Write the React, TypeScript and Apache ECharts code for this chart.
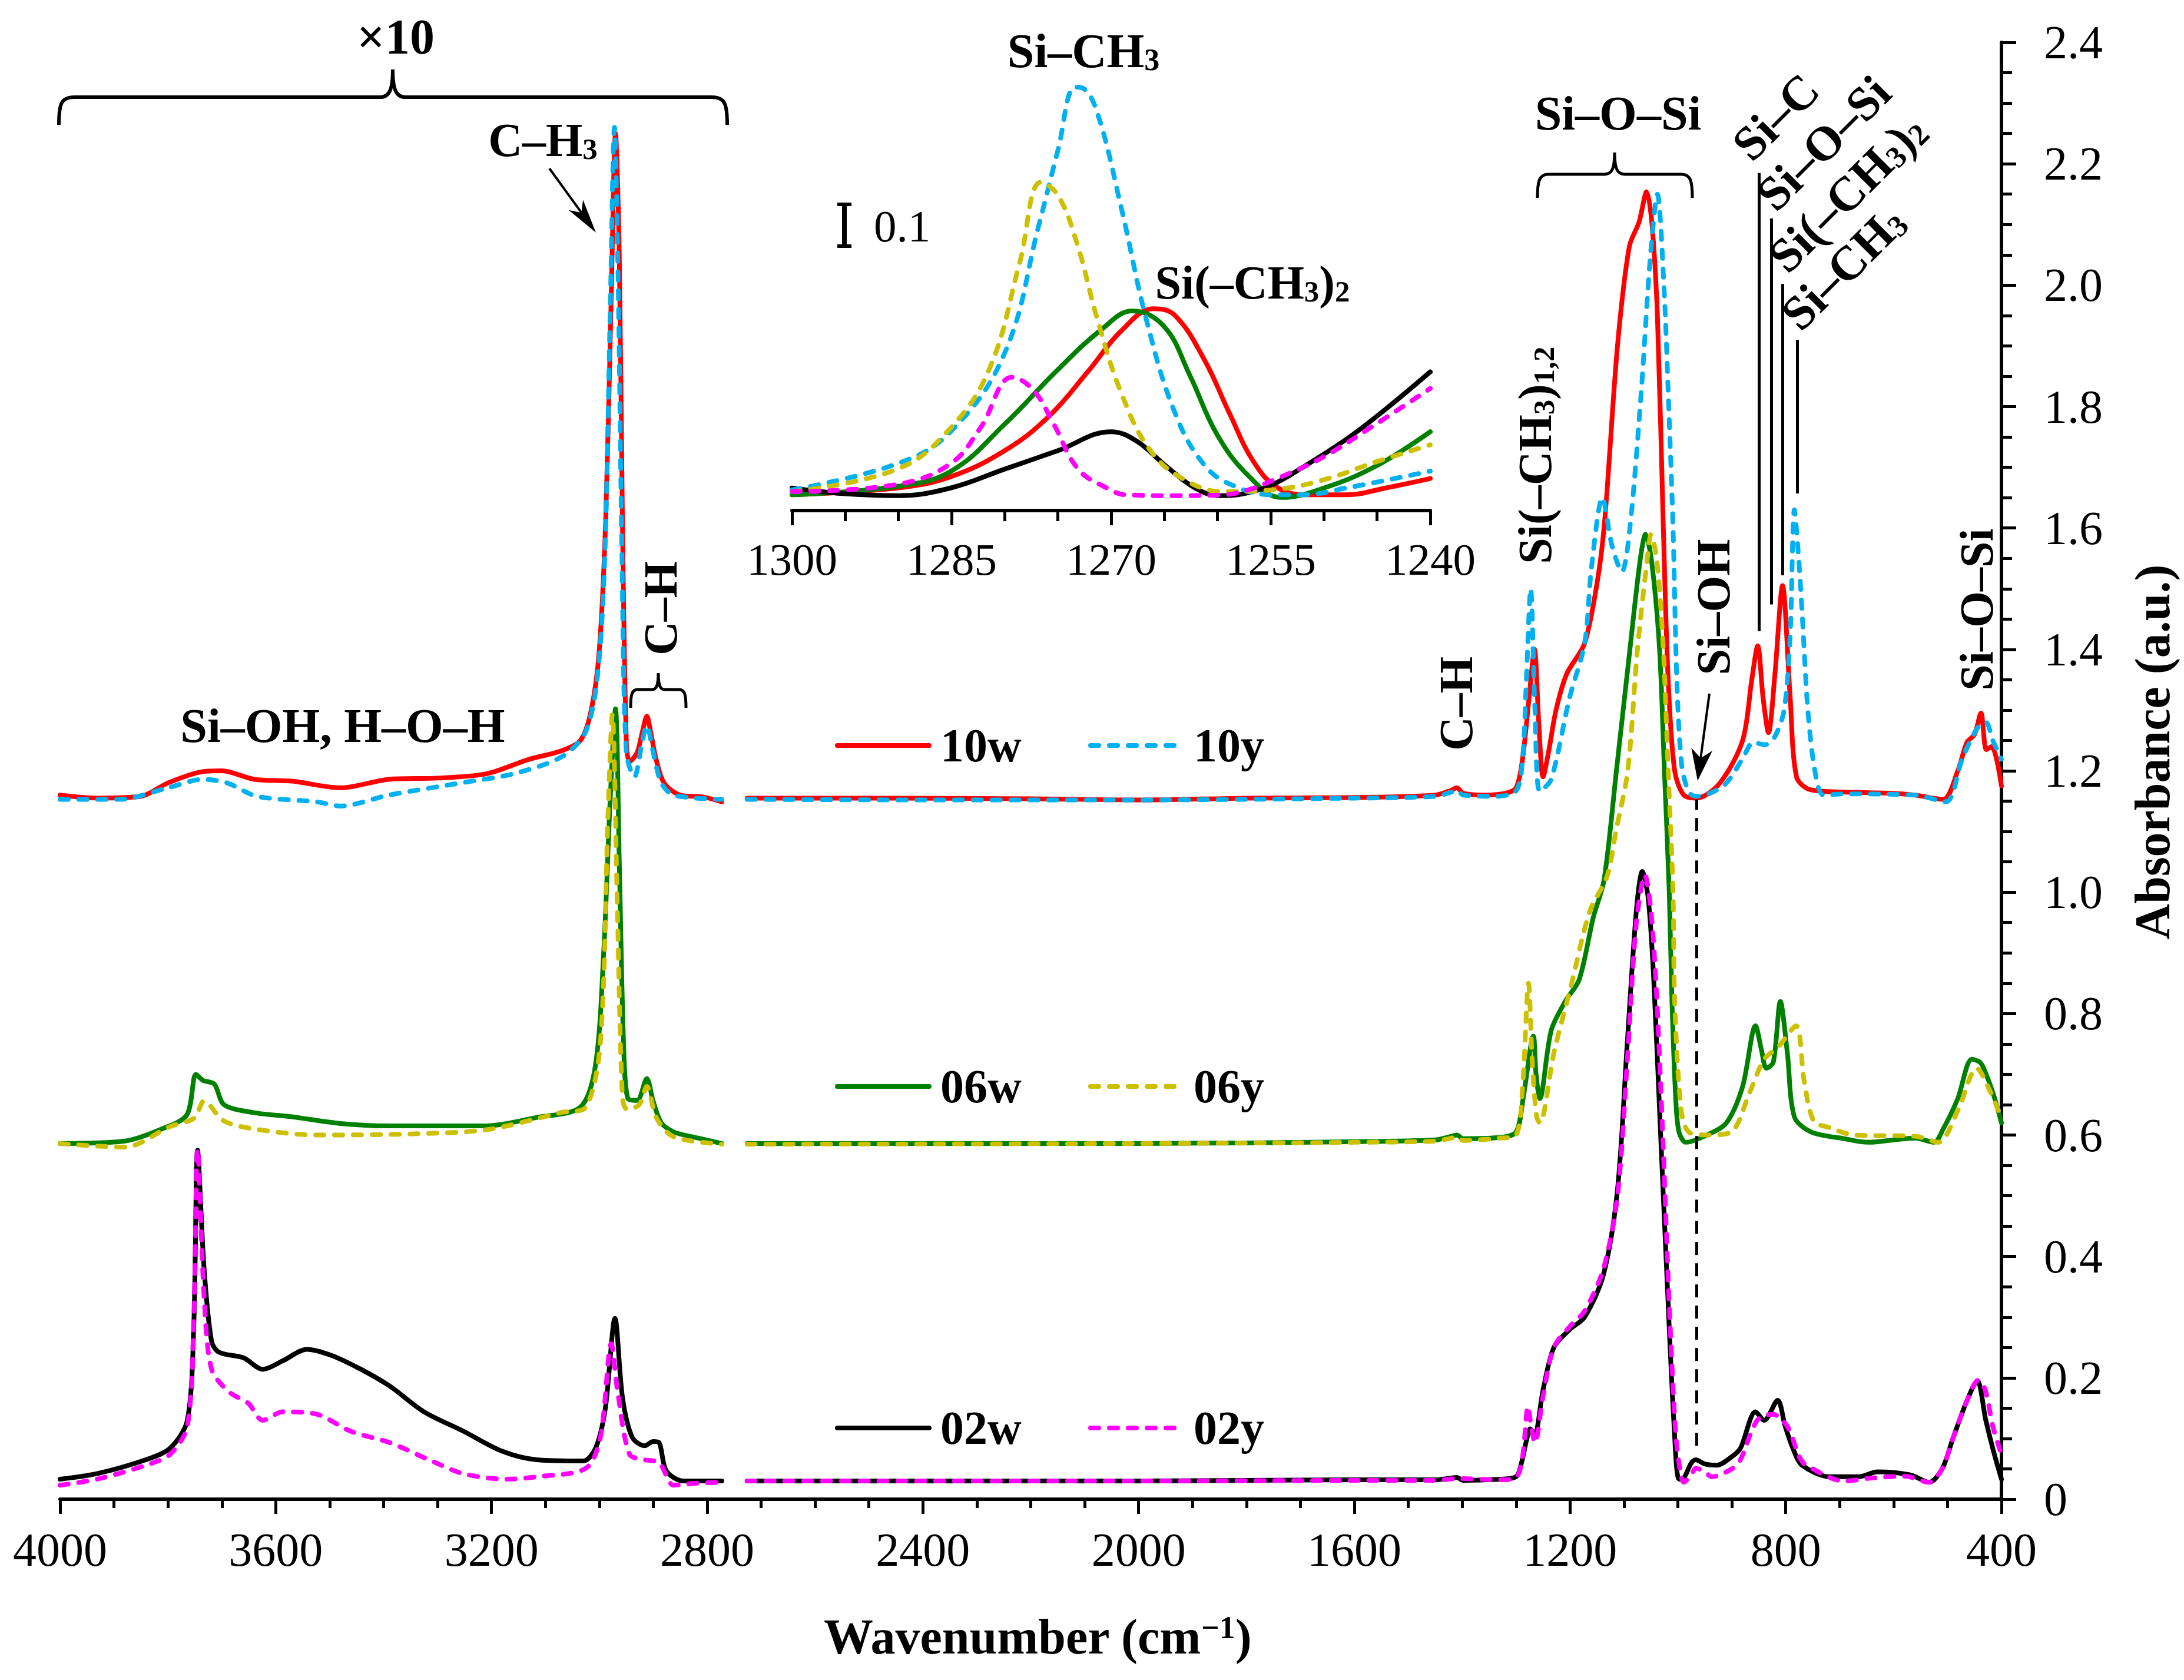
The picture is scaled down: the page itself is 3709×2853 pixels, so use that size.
import { useEffect, useRef } from "react";
import * as echarts from "echarts";

const FONT = '"Liberation Serif", "Times New Roman", Times, serif';

// ---------- axes ----------
const X_MIN = 400;
const X_MAX = 4000;
const X_STEP = 400;
const Y_MIN = 0;
const Y_MAX = 2.4;
const Y_STEP = 0.2;
const INSET_X_MIN = 1240;
const INSET_X_MAX = 1300;
const INSET_X_STEP = 15;

// ---------- samples ----------
const sampleNames = ["10w", "10y", "06w", "06y", "02w", "02y"];
const sampleColors = ["#FF0000", "#00B0F0", "#008000", "#CCC000", "#000000", "#FF00FF"];
const sampleDashed = [false, true, false, true, false, true];

// gap in the spectra (axis break of the x10 region)
const GAP: any = [2750, "-"];

// ---------- main spectra: [wavenumber, absorbance] ----------
const s10w: any[] = [
  [4000, 1.16], [3930, 1.155], [3850, 1.158], [3800, 1.18], [3740, 1.198], [3700, 1.2], [3640, 1.186],
  [3570, 1.183], [3480, 1.172], [3390, 1.186], [3300, 1.188], [3210, 1.195], [3130, 1.219], [3070, 1.233],
  [3035, 1.25], [3015, 1.3], [3000, 1.4], [2988, 1.62], [2978, 1.98], [2970, 2.25], [2963, 2.05], [2957, 1.6],
  [2950, 1.25], [2944, 1.215], [2930, 1.23], [2920, 1.265], [2912, 1.29], [2904, 1.26], [2895, 1.22],
  [2880, 1.18], [2850, 1.16], [2808, 1.157], [2773, 1.149],
  GAP,
  [2726, 1.155], [2500, 1.155], [2200, 1.154], [2000, 1.152], [1800, 1.155], [1600, 1.156], [1450, 1.16],
  [1420, 1.168], [1410, 1.172], [1398, 1.163], [1360, 1.16], [1320, 1.163], [1300, 1.172], [1288, 1.22],
  [1276, 1.32], [1266, 1.4], [1258, 1.28], [1250, 1.19], [1240, 1.23], [1226, 1.3], [1206, 1.36],
  [1173, 1.41], [1148, 1.52], [1135, 1.62], [1112, 1.9], [1090, 2.064], [1072, 2.104], [1058, 2.154],
  [1048, 2.1], [1038, 1.95], [1027, 1.6], [1018, 1.35], [1006, 1.2], [989, 1.16], [965, 1.155],
  [922, 1.18], [880, 1.25], [863, 1.35], [852, 1.406], [842, 1.32], [832, 1.263], [820, 1.36], [806, 1.505],
  [792, 1.324], [780, 1.19], [755, 1.169], [692, 1.165], [600, 1.163], [560, 1.16], [508, 1.153],
  [481, 1.2], [464, 1.247], [450, 1.26], [438, 1.295], [428, 1.235], [418, 1.24], [400, 1.175],
];

const s10y: any[] = [
  [4000, 1.153], [3890, 1.153], [3800, 1.172], [3735, 1.186], [3690, 1.18], [3635, 1.158], [3525, 1.149],
  [3480, 1.142], [3390, 1.16], [3250, 1.181], [3160, 1.195], [3070, 1.223], [3025, 1.265], [3003, 1.36],
  [2990, 1.55], [2980, 1.95], [2972, 2.26], [2965, 2.0], [2958, 1.55], [2950, 1.23], [2935, 1.19],
  [2920, 1.25], [2912, 1.274], [2900, 1.23], [2885, 1.18], [2862, 1.16], [2773, 1.153],
  GAP,
  [2726, 1.153], [2400, 1.152], [2000, 1.152], [1600, 1.155], [1450, 1.158], [1420, 1.165], [1410, 1.168],
  [1398, 1.16], [1340, 1.158], [1300, 1.167], [1288, 1.22], [1281, 1.35], [1273, 1.5], [1265, 1.3],
  [1256, 1.166], [1235, 1.186], [1201, 1.32], [1173, 1.41], [1160, 1.537], [1140, 1.65], [1122, 1.57],
  [1104, 1.528], [1089, 1.6], [1068, 1.824], [1051, 2.048], [1038, 2.15], [1026, 2.0], [1017, 1.8],
  [1009, 1.6], [1002, 1.35], [993, 1.21], [980, 1.165], [967, 1.158], [940, 1.163], [910, 1.18],
  [880, 1.22], [860, 1.247], [839, 1.243], [821, 1.255], [803, 1.3], [792, 1.42], [784, 1.63], [776, 1.55],
  [769, 1.45], [759, 1.3], [746, 1.2], [730, 1.16], [692, 1.162], [560, 1.16], [503, 1.149], [473, 1.219],
  [445, 1.27], [429, 1.28], [416, 1.25], [400, 1.219],
];

const s06w: any[] = [
  [4000, 0.586], [3880, 0.59], [3814, 0.609], [3765, 0.633], [3748, 0.7], [3735, 0.69], [3714, 0.684],
  [3696, 0.65], [3642, 0.637], [3570, 0.63], [3480, 0.619], [3390, 0.615], [3210, 0.615], [3116, 0.629],
  [3035, 0.646], [3007, 0.716], [2992, 0.9], [2980, 1.15], [2970, 1.302], [2963, 1.05], [2955, 0.75],
  [2947, 0.66], [2930, 0.657], [2912, 0.693], [2900, 0.655], [2885, 0.62], [2862, 0.605], [2817, 0.595],
  [2773, 0.586],
  GAP,
  [2726, 0.586], [2000, 0.586], [1600, 0.589], [1450, 0.592], [1420, 0.598], [1410, 0.6], [1398, 0.594],
  [1330, 0.596], [1300, 0.605], [1287, 0.66], [1268, 0.763], [1263, 0.7], [1256, 0.66], [1235, 0.772],
  [1209, 0.82], [1183, 0.856], [1157, 0.958], [1137, 1.02], [1114, 1.2], [1089, 1.4], [1070, 1.547],
  [1060, 1.59], [1048, 1.54], [1034, 1.4], [1025, 1.2], [1016, 1.0], [1011, 0.82], [1004, 0.66],
  [998, 0.605], [985, 0.588], [946, 0.6], [910, 0.62], [880, 0.68], [856, 0.78], [845, 0.74], [836, 0.71],
  [823, 0.72], [810, 0.82], [797, 0.735], [784, 0.63], [753, 0.605], [692, 0.594], [648, 0.588],
  [560, 0.595], [525, 0.588], [508, 0.61], [481, 0.66], [455, 0.725], [440, 0.72], [433, 0.71],
  [416, 0.67], [400, 0.62],
];

const s06y: any[] = [
  [4000, 0.586], [3880, 0.58], [3796, 0.614], [3751, 0.628], [3733, 0.656], [3696, 0.623], [3633, 0.609],
  [3524, 0.6], [3343, 0.602], [3207, 0.609], [3071, 0.637], [3025, 0.646], [2998, 0.753], [2984, 1.126],
  [2976, 1.293], [2966, 0.95], [2957, 0.66], [2948, 0.642], [2926, 0.65], [2912, 0.68], [2894, 0.628],
  [2862, 0.597], [2773, 0.585],
  GAP,
  [2726, 0.585], [2000, 0.586], [1600, 0.588], [1450, 0.59], [1420, 0.595], [1410, 0.597], [1398, 0.591],
  [1330, 0.595], [1300, 0.6], [1288, 0.68], [1277, 0.85], [1270, 0.72], [1262, 0.63], [1256, 0.62],
  [1230, 0.735], [1198, 0.846], [1164, 0.967], [1131, 1.027], [1115, 1.1], [1093, 1.2], [1075, 1.4],
  [1057, 1.547], [1050, 1.589], [1039, 1.547], [1027, 1.4], [1018, 1.2], [1009, 1.0], [1006, 0.82],
  [994, 0.642], [980, 0.605], [946, 0.6], [901, 0.605], [867, 0.67], [840, 0.725], [815, 0.744],
  [781, 0.78], [766, 0.69], [748, 0.623], [718, 0.612], [674, 0.6], [560, 0.598], [517, 0.588],
  [481, 0.64], [446, 0.71], [420, 0.67], [400, 0.628],
];

const s02w: any[] = [
  [4000, 0.033], [3932, 0.042], [3841, 0.065], [3796, 0.084], [3764, 0.13], [3752, 0.288], [3745, 0.575],
  [3733, 0.381], [3719, 0.26], [3705, 0.242], [3660, 0.233], [3624, 0.214], [3587, 0.228], [3542, 0.247],
  [3497, 0.237], [3442, 0.214], [3388, 0.186], [3325, 0.144], [3252, 0.112], [3180, 0.079], [3116, 0.065],
  [3030, 0.063], [3007, 0.084], [2989, 0.149], [2971, 0.298], [2957, 0.167], [2939, 0.102], [2916, 0.088],
  [2900, 0.095], [2889, 0.093], [2876, 0.047], [2844, 0.03], [2773, 0.03],
  GAP,
  [2726, 0.03], [2000, 0.03], [1600, 0.032], [1450, 0.032], [1420, 0.035], [1410, 0.036], [1398, 0.031],
  [1330, 0.033], [1300, 0.037], [1290, 0.06], [1280, 0.1], [1274, 0.116], [1266, 0.105], [1250, 0.18],
  [1230, 0.25], [1200, 0.28], [1173, 0.3], [1138, 0.37], [1112, 0.51], [1094, 0.75], [1077, 0.97],
  [1066, 1.034], [1055, 0.99], [1045, 0.86], [1033, 0.62], [1020, 0.36], [1007, 0.12], [998, 0.033],
  [989, 0.035], [975, 0.06], [967, 0.065], [950, 0.058], [928, 0.056], [900, 0.07], [884, 0.084],
  [856, 0.144], [840, 0.13], [815, 0.163], [801, 0.12], [785, 0.08], [770, 0.056], [718, 0.037],
  [665, 0.037], [630, 0.045], [569, 0.04], [534, 0.028], [510, 0.05], [490, 0.1], [465, 0.16],
  [445, 0.195], [429, 0.13], [415, 0.08], [400, 0.033],
];

const s02y: any[] = [
  [4000, 0.023], [3932, 0.033], [3841, 0.056], [3796, 0.074], [3764, 0.12], [3752, 0.3], [3745, 0.577],
  [3733, 0.335], [3719, 0.214], [3687, 0.177], [3651, 0.158], [3624, 0.13], [3587, 0.144], [3524, 0.14],
  [3461, 0.112], [3388, 0.093], [3316, 0.065], [3252, 0.042], [3170, 0.033], [3116, 0.037], [3025, 0.051],
  [2998, 0.102], [2978, 0.256], [2966, 0.177], [2944, 0.074], [2916, 0.065], [2889, 0.06], [2862, 0.023],
  [2826, 0.026], [2773, 0.028],
  GAP,
  [2726, 0.03], [2000, 0.03], [1600, 0.031], [1450, 0.031], [1410, 0.034], [1330, 0.032], [1300, 0.036],
  [1288, 0.07], [1278, 0.153], [1272, 0.12], [1265, 0.093], [1250, 0.17], [1230, 0.25], [1200, 0.285],
  [1173, 0.31], [1138, 0.38], [1112, 0.5], [1094, 0.72], [1077, 0.95], [1061, 1.028], [1050, 0.97],
  [1040, 0.84], [1029, 0.62], [1016, 0.32], [1005, 0.12], [998, 0.06], [989, 0.028], [975, 0.04],
  [967, 0.051], [950, 0.045], [937, 0.037], [900, 0.05], [884, 0.065], [853, 0.13], [824, 0.14],
  [797, 0.12], [775, 0.07], [762, 0.056], [692, 0.03], [640, 0.035], [580, 0.038], [534, 0.028],
  [510, 0.05], [490, 0.1], [465, 0.16], [443, 0.196], [430, 0.18], [416, 0.12], [400, 0.074],
];

// ---------- inset spectra (1300-1240 cm-1, in units of the 0.1 scale bar) ----------
const i10w = [
  [1300, 0.035], [1290.1, 0.05], [1285.1, 0.075], [1280, 0.133], [1275.9, 0.208], [1272.2, 0.308],
  [1269, 0.4], [1266, 0.448], [1264, 0.433], [1261.2, 0.333], [1258.9, 0.217], [1256.6, 0.108],
  [1254.3, 0.05], [1251.6, 0.035], [1247.9, 0.035], [1244.2, 0.05], [1240, 0.071],
];
const i10y = [
  [1300, 0.046], [1290.1, 0.104], [1285.1, 0.175], [1280, 0.35], [1276.8, 0.633], [1275, 0.8],
  [1273.4, 0.94], [1272.7, 0.938], [1271.3, 0.883], [1269, 0.667], [1266.7, 0.425], [1264, 0.217],
  [1261.2, 0.1], [1258.4, 0.054], [1254.8, 0.035], [1252, 0.035], [1247.9, 0.05], [1240, 0.0875],
];
const i06w = [
  [1300, 0.035], [1290, 0.054], [1285, 0.088], [1280, 0.192], [1275, 0.313], [1271, 0.4], [1268, 0.443],
  [1265, 0.408], [1262.6, 0.3], [1260, 0.167], [1257, 0.075], [1254, 0.029], [1250, 0.05], [1245, 0.1],
  [1240, 0.175],
];
const i06y = [
  [1300, 0.042], [1290.1, 0.092], [1285.1, 0.183], [1281.4, 0.317], [1278.6, 0.55], [1276.6, 0.729],
  [1275, 0.7], [1273.2, 0.592], [1271.3, 0.425], [1269, 0.258], [1266.3, 0.133], [1263, 0.067],
  [1259.4, 0.042], [1254.8, 0.046], [1250.2, 0.067], [1245.1, 0.108], [1240, 0.146],
];
const i02w = [
  [1300, 0.05], [1295.2, 0.0375], [1290.1, 0.033], [1285.1, 0.05], [1280, 0.092], [1275, 0.133],
  [1270, 0.175], [1267.6, 0.154], [1264.9, 0.1], [1262.1, 0.05], [1259.8, 0.033], [1257.5, 0.0375],
  [1254.8, 0.058], [1252, 0.096], [1247.9, 0.158], [1244.2, 0.225], [1240, 0.308],
];
const i02y = [
  [1300, 0.042], [1290.1, 0.058], [1285.1, 0.104], [1282.3, 0.183], [1279.3, 0.296], [1277.3, 0.267],
  [1275.4, 0.192], [1273.1, 0.092], [1270.4, 0.05], [1268.6, 0.035], [1264, 0.033], [1259.4, 0.035],
  [1257.1, 0.046], [1254.8, 0.067], [1250.2, 0.117], [1245.1, 0.192], [1240, 0.271],
];

const mainData = [s10w, s10y, s06w, s06y, s02w, s02y];
const insetData = [i10w, i10y, i06w, i06y, i02w, i02y];

// band marker lines: [wavenumber, from absorbance, to absorbance]
const bandLines = [
  [850, 1.43, 2.185],
  [827, 1.474, 2.11],
  [806, 1.522, 2.002],
  [779, 1.657, 1.91],
];
const siOHLine = [965, 0.088, 1.153];

// ---------- drawing helpers ----------
function rich(size: number, bold: boolean) {
  const w = bold ? "bold" : "normal";
  const s = Math.round(size * 0.64);
  return {
    sub: { fontFamily: FONT, fontSize: s, fontWeight: w, fill: "#000", verticalAlign: "bottom", lineHeight: s },
    sup: { fontFamily: FONT, fontSize: s, fontWeight: w, fill: "#000", verticalAlign: "top", lineHeight: s },
  };
}

function label(text: string, x: number, y: number, o: any = {}) {
  const size = o.size ?? 80;
  const bold = o.bold ?? true;
  return {
    type: "text",
    x,
    y,
    rotation: o.rot ?? 0,
    z: 100,
    silent: true,
    style: {
      text,
      fontFamily: FONT,
      fontSize: size,
      fontWeight: bold ? "bold" : "normal",
      fill: "#000",
      align: o.align ?? "center",
      verticalAlign: o.va ?? "middle",
      rich: rich(size, bold),
    },
  };
}

function arrow(x1: number, y1: number, x2: number, y2: number, len: number, half: number, w: number) {
  const dx = x2 - x1;
  const dy = y2 - y1;
  const L = Math.hypot(dx, dy);
  const ux = dx / L;
  const uy = dy / L;
  const px = -uy;
  const py = ux;
  const bx = x2 - ux * len;
  const by = y2 - uy * len;
  const nx = x2 - ux * len * 0.72;
  const ny = y2 - uy * len * 0.72;
  return [
    { type: "line", z: 100, silent: true, shape: { x1, y1, x2: nx, y2: ny }, style: { stroke: "#000", lineWidth: w } },
    {
      type: "polygon",
      z: 100,
      silent: true,
      shape: { points: [[x2, y2], [bx + px * half, by + py * half], [nx, ny], [bx - px * half, by - py * half]] },
      style: { fill: "#000" },
    },
  ];
}

const LINE_W = 8;
const DASH = [14, 18];

function legendItem(i: number, x: number, y: number) {
  const dashed = sampleDashed[i];
  return [
    {
      type: "line",
      z: 100,
      silent: true,
      shape: { x1: x, y1: y, x2: x + 156, y2: y },
      style: {
        stroke: sampleColors[i],
        lineWidth: LINE_W,
        lineDash: dashed ? DASH : null,
        lineCap: "round",
      },
    },
    label(sampleNames[i], x + 175, y, { align: "left", size: 80 }),
  ];
}

const BRACES = [
  "M100,212 C100,176 104,165 126,165 L646,165 C662,165 667,150 667,118 C667,150 672,165 688,165 L1209,165 C1231,165 1235,176 1235,212",
  "M1071,1202 C1071,1180 1073,1171 1083,1171 L1107,1171 C1115,1171 1118,1164 1118,1143 C1118,1164 1121,1171 1129,1171 L1153,1171 C1163,1171 1165,1180 1165,1202",
  "M2611,336 C2611,308 2614,296 2629,296 L2724,296 C2737,296 2742,288 2742,259 C2742,288 2747,296 2760,296 L2856,296 C2871,296 2874,308 2874,336",
];

function App() {
  const ref = useRef<HTMLDivElement>(null);

  useEffect(() => {
    document.body.style.margin = "0";
    document.body.style.overflow = "hidden";
    BRACES.forEach((d, k) => {
      echarts.graphic.registerShape("brace" + k, echarts.graphic.extendPath(d, {}) as any);
    });
    const chart = echarts.init(ref.current as HTMLDivElement, undefined, { renderer: "svg" });

    const lineStyleFor = (i: number) => ({
      color: sampleColors[i],
      width: LINE_W,
      type: sampleDashed[i] ? DASH : "solid",
      cap: "round",
      join: "round",
    });

    const mainSeries: any[] = mainData.map((d, i) => ({
      type: "line",
      name: sampleNames[i],
      xAxisIndex: 0,
      yAxisIndex: 0,
      data: d,
      symbol: "none",
      showSymbol: false,
      smooth: 0.3,
      connectNulls: false,
      silent: true,
      z: sampleDashed[i] ? 3 : 2,
      lineStyle: lineStyleFor(i),
    }));

    mainSeries[0].markLine = {
      silent: true,
      symbol: ["none", "none"],
      label: { show: false },
      data: [
        [
          { coord: [siOHLine[0], siOHLine[1]], lineStyle: { color: "#000", width: 5, type: [22, 14] } },
          { coord: [siOHLine[0], siOHLine[2]] },
        ],
        ...bandLines.map(([x, a, b]) => [
          { coord: [x, a], lineStyle: { color: "#000", width: 5, type: "solid" } },
          { coord: [x, b] },
        ]),
      ],
    };

    const insetSeries: any[] = insetData.map((d, i) => ({
      type: "line",
      name: "inset " + sampleNames[i],
      xAxisIndex: 1,
      yAxisIndex: 1,
      data: d,
      symbol: "none",
      showSymbol: false,
      smooth: 0.4,
      silent: true,
      z: sampleDashed[i] ? 3 : 2,
      lineStyle: lineStyleFor(i),
    }));

    const graphic: any[] = [
      // x10 region brace and label
      { type: "brace0", x: 0, y: 0, z: 100, silent: true, style: { stroke: "#000", lineWidth: 6, fill: "none" } },
      label("×10", 672, 62, { size: 84 }),
      label("C–H{sub|3}", 922, 238, { size: 80 }),
      ...arrow(933, 286, 1012, 395, 58, 15, 4),
      // C-H brace (left)
      { type: "brace1", x: 0, y: 0, z: 100, silent: true, style: { stroke: "#000", lineWidth: 5, fill: "none" } },
      label("C–H", 1122, 1033, { rot: Math.PI / 2 }),
      label("Si–OH, H–O–H", 582, 1232, { size: 82 }),
      // inset annotations
      label("Si–CH{sub|3}", 1840, 86, { size: 82 }),
      label("Si(–CH{sub|3}){sub|2}", 2127, 480, { size: 80 }),
      { type: "line", z: 100, silent: true, shape: { x1: 1434, y1: 345, x2: 1434, y2: 420 }, style: { stroke: "#000", lineWidth: 8 } },
      { type: "line", z: 100, silent: true, shape: { x1: 1422, y1: 347, x2: 1446, y2: 347 }, style: { stroke: "#000", lineWidth: 6 } },
      { type: "line", z: 100, silent: true, shape: { x1: 1422, y1: 418, x2: 1446, y2: 418 }, style: { stroke: "#000", lineWidth: 6 } },
      label("0.1", 1484, 384, { size: 77, bold: false, align: "left" }),
      // Si-O-Si brace (top)
      { type: "brace2", x: 0, y: 0, z: 100, silent: true, style: { stroke: "#000", lineWidth: 5, fill: "none" } },
      label("Si–O–Si", 2748, 192, { size: 82 }),
      label("Si(–CH{sub|3}){sub|1,2}", 2607, 773, { rot: Math.PI / 2 }),
      label("C–H", 2473, 1195, { rot: Math.PI / 2 }),
      label("Si–OH", 2910, 1031, { rot: Math.PI / 2 }),
      ...arrow(2903, 1178, 2883, 1326, 54, 18, 4),
      label("Si–O–Si", 3357, 1035, { rot: Math.PI / 2 }),
      // tilted band labels
      label("Si–C", 2956, 258, { rot: Math.PI / 4, align: "left", size: 82 }),
      label("Si–O–Si", 2997, 343, { rot: Math.PI / 4, align: "left", size: 82 }),
      label("Si(–CH{sub|3}){sub|2}", 3017, 448, { rot: Math.PI / 4, align: "left", size: 82 }),
      label("Si–CH{sub|3}", 3039, 546, { rot: Math.PI / 4, align: "left", size: 82 }),
      // legend
      ...legendItem(0, 1422, 1266),
      ...legendItem(1, 1852, 1266),
      ...legendItem(2, 1422, 1845),
      ...legendItem(3, 1852, 1845),
      ...legendItem(4, 1422, 2425),
      ...legendItem(5, 1852, 2425),
      // axis names
      label("Wavenumber (cm{sup|−1})", 1762, 2779, { size: 84 }),
      label("Absorbance (a.u.)", 3655, 1277, { size: 84, rot: Math.PI / 2 }),
    ];

    const axisLine = { show: true, onZero: false, lineStyle: { color: "#000", width: 6 } };
    const plain = (v: number) => String(v);

    chart.setOption({
      animation: false,
      backgroundColor: "#fff",
      grid: [
        { left: 102, right: 310, top: 72, bottom: 307, containLabel: false, outerBoundsMode: "none" },
        { left: 1345, top: 102, width: 1084, height: 765, containLabel: false, outerBoundsMode: "none" },
      ],
      xAxis: [
        {
          type: "value",
          gridIndex: 0,
          min: X_MIN,
          max: X_MAX,
          interval: X_STEP,
          inverse: true,
          position: "bottom",
          axisLine,
          axisTick: { show: true, inside: false, length: 25, lineStyle: { color: "#000", width: 5 } },
          minorTick: { show: true, splitNumber: 4, length: 15, lineStyle: { color: "#000", width: 5 } },
          splitLine: { show: false },
          axisLabel: { color: "#000", fontFamily: FONT, fontSize: 80, margin: 46, formatter: plain },
        },
        {
          type: "value",
          gridIndex: 1,
          min: INSET_X_MIN,
          max: INSET_X_MAX,
          interval: INSET_X_STEP,
          inverse: true,
          position: "bottom",
          axisLine,
          axisTick: { show: true, inside: false, length: 25, lineStyle: { color: "#000", width: 5 } },
          minorTick: { show: true, splitNumber: 3, length: 18, lineStyle: { color: "#000", width: 5 } },
          splitLine: { show: false },
          axisLabel: { color: "#000", fontFamily: FONT, fontSize: 77, margin: 44, formatter: plain },
        },
      ],
      yAxis: [
        {
          type: "value",
          gridIndex: 0,
          min: Y_MIN,
          max: Y_MAX,
          interval: Y_STEP,
          position: "right",
          axisLine,
          axisTick: { show: true, inside: false, length: 25, lineStyle: { color: "#000", width: 5 } },
          minorTick: { show: true, splitNumber: 4, length: 18, lineStyle: { color: "#000", width: 5 } },
          splitLine: { show: false },
          axisLabel: {
            color: "#000",
            fontFamily: FONT,
            fontSize: 80,
            margin: 72,
            formatter: (v: number) => (v === 0 ? "0" : v.toFixed(1)),
          },
        },
        { type: "value", gridIndex: 1, min: 0, max: 1, show: false },
      ],
      series: [...mainSeries, ...insetSeries],
      graphic,
    });

    return () => chart.dispose();
  }, []);

  return <div ref={ref} style={{ width: 3709, height: 2853 }} />;
}

export default App;
